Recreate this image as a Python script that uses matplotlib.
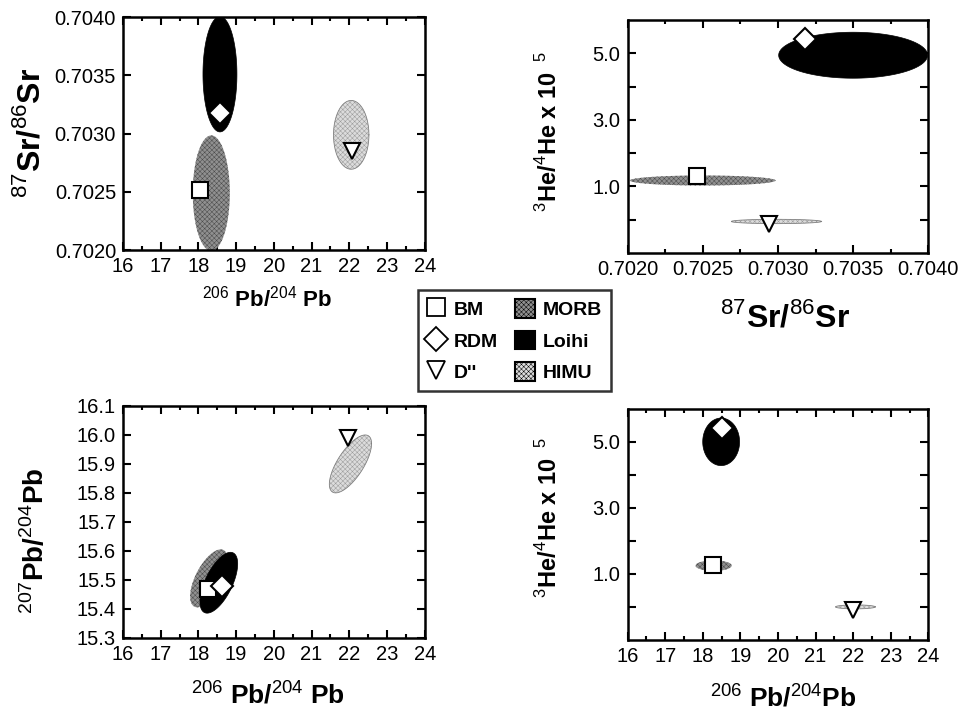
import numpy as np
import matplotlib
matplotlib.use("Agg")
import matplotlib.pyplot as plt
from matplotlib.lines import Line2D
from matplotlib.patches import Patch
from matplotlib.ticker import MultipleLocator, FixedLocator, FuncFormatter

plt.rcParams['font.family'] = ['Liberation Sans', 'DejaVu Sans']
plt.rcParams['mathtext.fontset'] = 'custom'
plt.rcParams['mathtext.rm'] = 'Liberation Sans'
plt.rcParams['mathtext.bf'] = 'Liberation Sans:bold'
plt.rcParams['hatch.linewidth'] = 0.35

# end members (point symbols): BM, RDM, D''
point_names = ['BM', 'RDM', "D''"]
point_markers = ['s', 'D', 'v']

# panel a: 206Pb/204Pb vs 87Sr/86Sr
a_pb206 = [18.04, 18.57, 22.06]
a_sr = [0.70252, 0.70318, 0.70285]
# panel b: 87Sr/86Sr vs 3He/4He
b_sr = [0.70246, 0.70318, 0.70294]
b_he = [1.30, 5.42, -0.13]
# panel c: 206Pb/204Pb vs 207Pb/204Pb
c_pb206 = [18.25, 18.62, 21.96]
c_pb207 = [15.47, 15.48, 15.99]
# panel d: 206Pb/204Pb vs 3He/4He
d_pb206 = [18.26, 18.50, 22.00]
d_he = [1.27, 5.43, -0.08]

# reservoir fields: centre x, centre y, half range x, half range y, correlation
field_names = ['MORB', 'Loihi', 'HIMU']
a_fields = [(18.34, 0.70249, 0.49, 0.000495, 0.0),
            (18.57, 0.70351, 0.45, 0.000495, 0.0),
            (22.05, 0.70299, 0.47, 0.000295, 0.0)]
b_fields = [(0.70250, 1.18, 0.000485, 0.15, 0.0),
            (0.70350, 4.94, 0.000495, 0.69, 0.0),
            (0.70299, -0.05, 0.00030, 0.065, 0.0)]
c_fields = [(18.28, 15.505, 0.50, 0.100, 0.62),
            (18.54, 15.490, 0.50, 0.105, 0.62),
            (22.03, 15.900, 0.56, 0.100, 0.70)]
d_fields = [(18.29, 1.25, 0.48, 0.16, 0.0),
            (18.49, 5.00, 0.49, 0.72, 0.0),
            (22.06, 0.00, 0.53, 0.06, 0.0)]

field_style = {
    'MORB': dict(facecolor='#909090', edgecolor='#4a4a4a', hatch='xxxxxxx', linewidth=0.0),
    'Loihi': dict(facecolor='black', edgecolor='black', linewidth=0.5),
    'HIMU': dict(facecolor='#dcdcdc', edgecolor='#9a9a9a', hatch='xxxxxxx', linewidth=0.0),
}


def field(ax, name, cx, cy, hx, hy, rho):
    t = np.linspace(0, 2 * np.pi, 200)
    xs = cx + hx * np.cos(t)
    ys = cy + hy * (rho * np.cos(t) + np.sqrt(1 - rho ** 2) * np.sin(t))
    ax.fill(xs, ys, zorder=2, **field_style[name])
    if name == 'HIMU':
        ax.plot(xs, ys, color='#808080', lw=0.6, zorder=2)


def points(ax, xs, ys):
    for x, y, m in zip(xs, ys, point_markers):
        ms = 11 if m == 'D' else 12
        ax.plot(x, y, marker=m, ms=ms, mfc='white', mec='black', mew=1.5,
                ls='none', zorder=4)


def style(ax):
    for s in ax.spines.values():
        s.set_linewidth(1.8)
    ax.tick_params(which='both', direction='in', top=True, right=True,
                   labelsize=14.5, width=1.5, pad=5)
    ax.tick_params(which='major', length=6)
    ax.tick_params(which='minor', length=3)


fig = plt.figure(figsize=(9.61, 7.11), dpi=100)
axa = fig.add_axes([0.128, 0.648, 0.314, 0.328])
axb = fig.add_axes([0.653, 0.644, 0.313, 0.328])
axc = fig.add_axes([0.128, 0.103, 0.314, 0.326])
axd = fig.add_axes([0.653, 0.100, 0.313, 0.325])

for ax, flds in [(axa, a_fields), (axb, b_fields), (axc, c_fields), (axd, d_fields)]:
    for name, f in zip(field_names, flds):
        field(ax, name, *f)
    style(ax)

points(axa, a_pb206, a_sr)
points(axb, b_sr, b_he)
points(axc, c_pb206, c_pb207)
points(axd, d_pb206, d_he)

he_fmt = FuncFormatter(lambda v, p: f'{v:.1f}' if round(v) in (1, 3, 5) else '')

for ax in (axa, axc, axd):
    ax.set_xlim(16, 24)
    ax.xaxis.set_major_locator(MultipleLocator(1))
    ax.xaxis.set_minor_locator(MultipleLocator(0.5))

axa.set_ylim(0.7020, 0.7040)
axa.yaxis.set_major_locator(MultipleLocator(0.0005))
axa.yaxis.set_major_formatter(FuncFormatter(lambda v, p: f'{v:.4f}'))

axb.set_xlim(0.7020, 0.7040)
axb.xaxis.set_major_locator(MultipleLocator(0.0005))
axb.xaxis.set_minor_locator(MultipleLocator(0.00025))
axb.xaxis.set_major_formatter(FuncFormatter(lambda v, p: f'{v:.4f}'))

for ax in (axb, axd):
    ax.set_ylim(-1, 6)
    ax.yaxis.set_major_locator(FixedLocator([0, 1, 2, 3, 4, 5]))
    ax.yaxis.set_major_formatter(he_fmt)

axc.set_ylim(15.3, 16.1)
axc.yaxis.set_major_locator(MultipleLocator(0.1))
axc.yaxis.set_major_formatter(FuncFormatter(lambda v, p: f'{v:.1f}'))

bold = dict(fontweight='bold', ha='center', va='center')
sr_label = r'$^{87}$Sr/$^{86}$Sr'
pb_label = r'$^{206}$ Pb/$^{204}$ Pb'
he_label = r'$^{3}$He/$^{4}$He x 10$^{\ \ 5}$'
fig.text(0.032, 0.813, sr_label, rotation=90, fontsize=23, **bold)
fig.text(0.278, 0.580, pb_label, fontsize=16, **bold)
fig.text(0.571, 0.815, he_label, rotation=90, fontsize=17, **bold)
fig.text(0.817, 0.553, sr_label, fontsize=23, **bold)
fig.text(0.037, 0.239, r'$^{207}$Pb/$^{204}$Pb', rotation=90, fontsize=20, **bold)
fig.text(0.279, 0.024, pb_label, fontsize=19, **bold)
fig.text(0.571, 0.272, he_label, rotation=90, fontsize=17, **bold)
fig.text(0.815, 0.019, r'$^{206}$ Pb/$^{204}$Pb', fontsize=19, **bold)

handles = [Line2D([], [], marker=m, ms=13 if m != 'D' else 12, mfc='white',
                  mec='black', mew=1.3, ls='none') for m in point_markers]
labels = list(point_names)
for name in field_names:
    st = dict(field_style[name])
    st['edgecolor'] = 'black'
    st['linewidth'] = 1.5
    handles.append(Patch(**st))
    labels.append(name)

leg = fig.legend(handles, labels, ncol=2, loc='center',
                 bbox_to_anchor=(0.535, 0.521), frameon=True, fancybox=False,
                 edgecolor='black', handlelength=1.0, handleheight=1.1,
                 handletextpad=0.4, columnspacing=0.9, labelspacing=0.6,
                 borderpad=0.45, prop=dict(weight='bold', size=14))
leg.get_frame().set_linewidth(1.8)

fig.savefig('out.png', dpi=100)
